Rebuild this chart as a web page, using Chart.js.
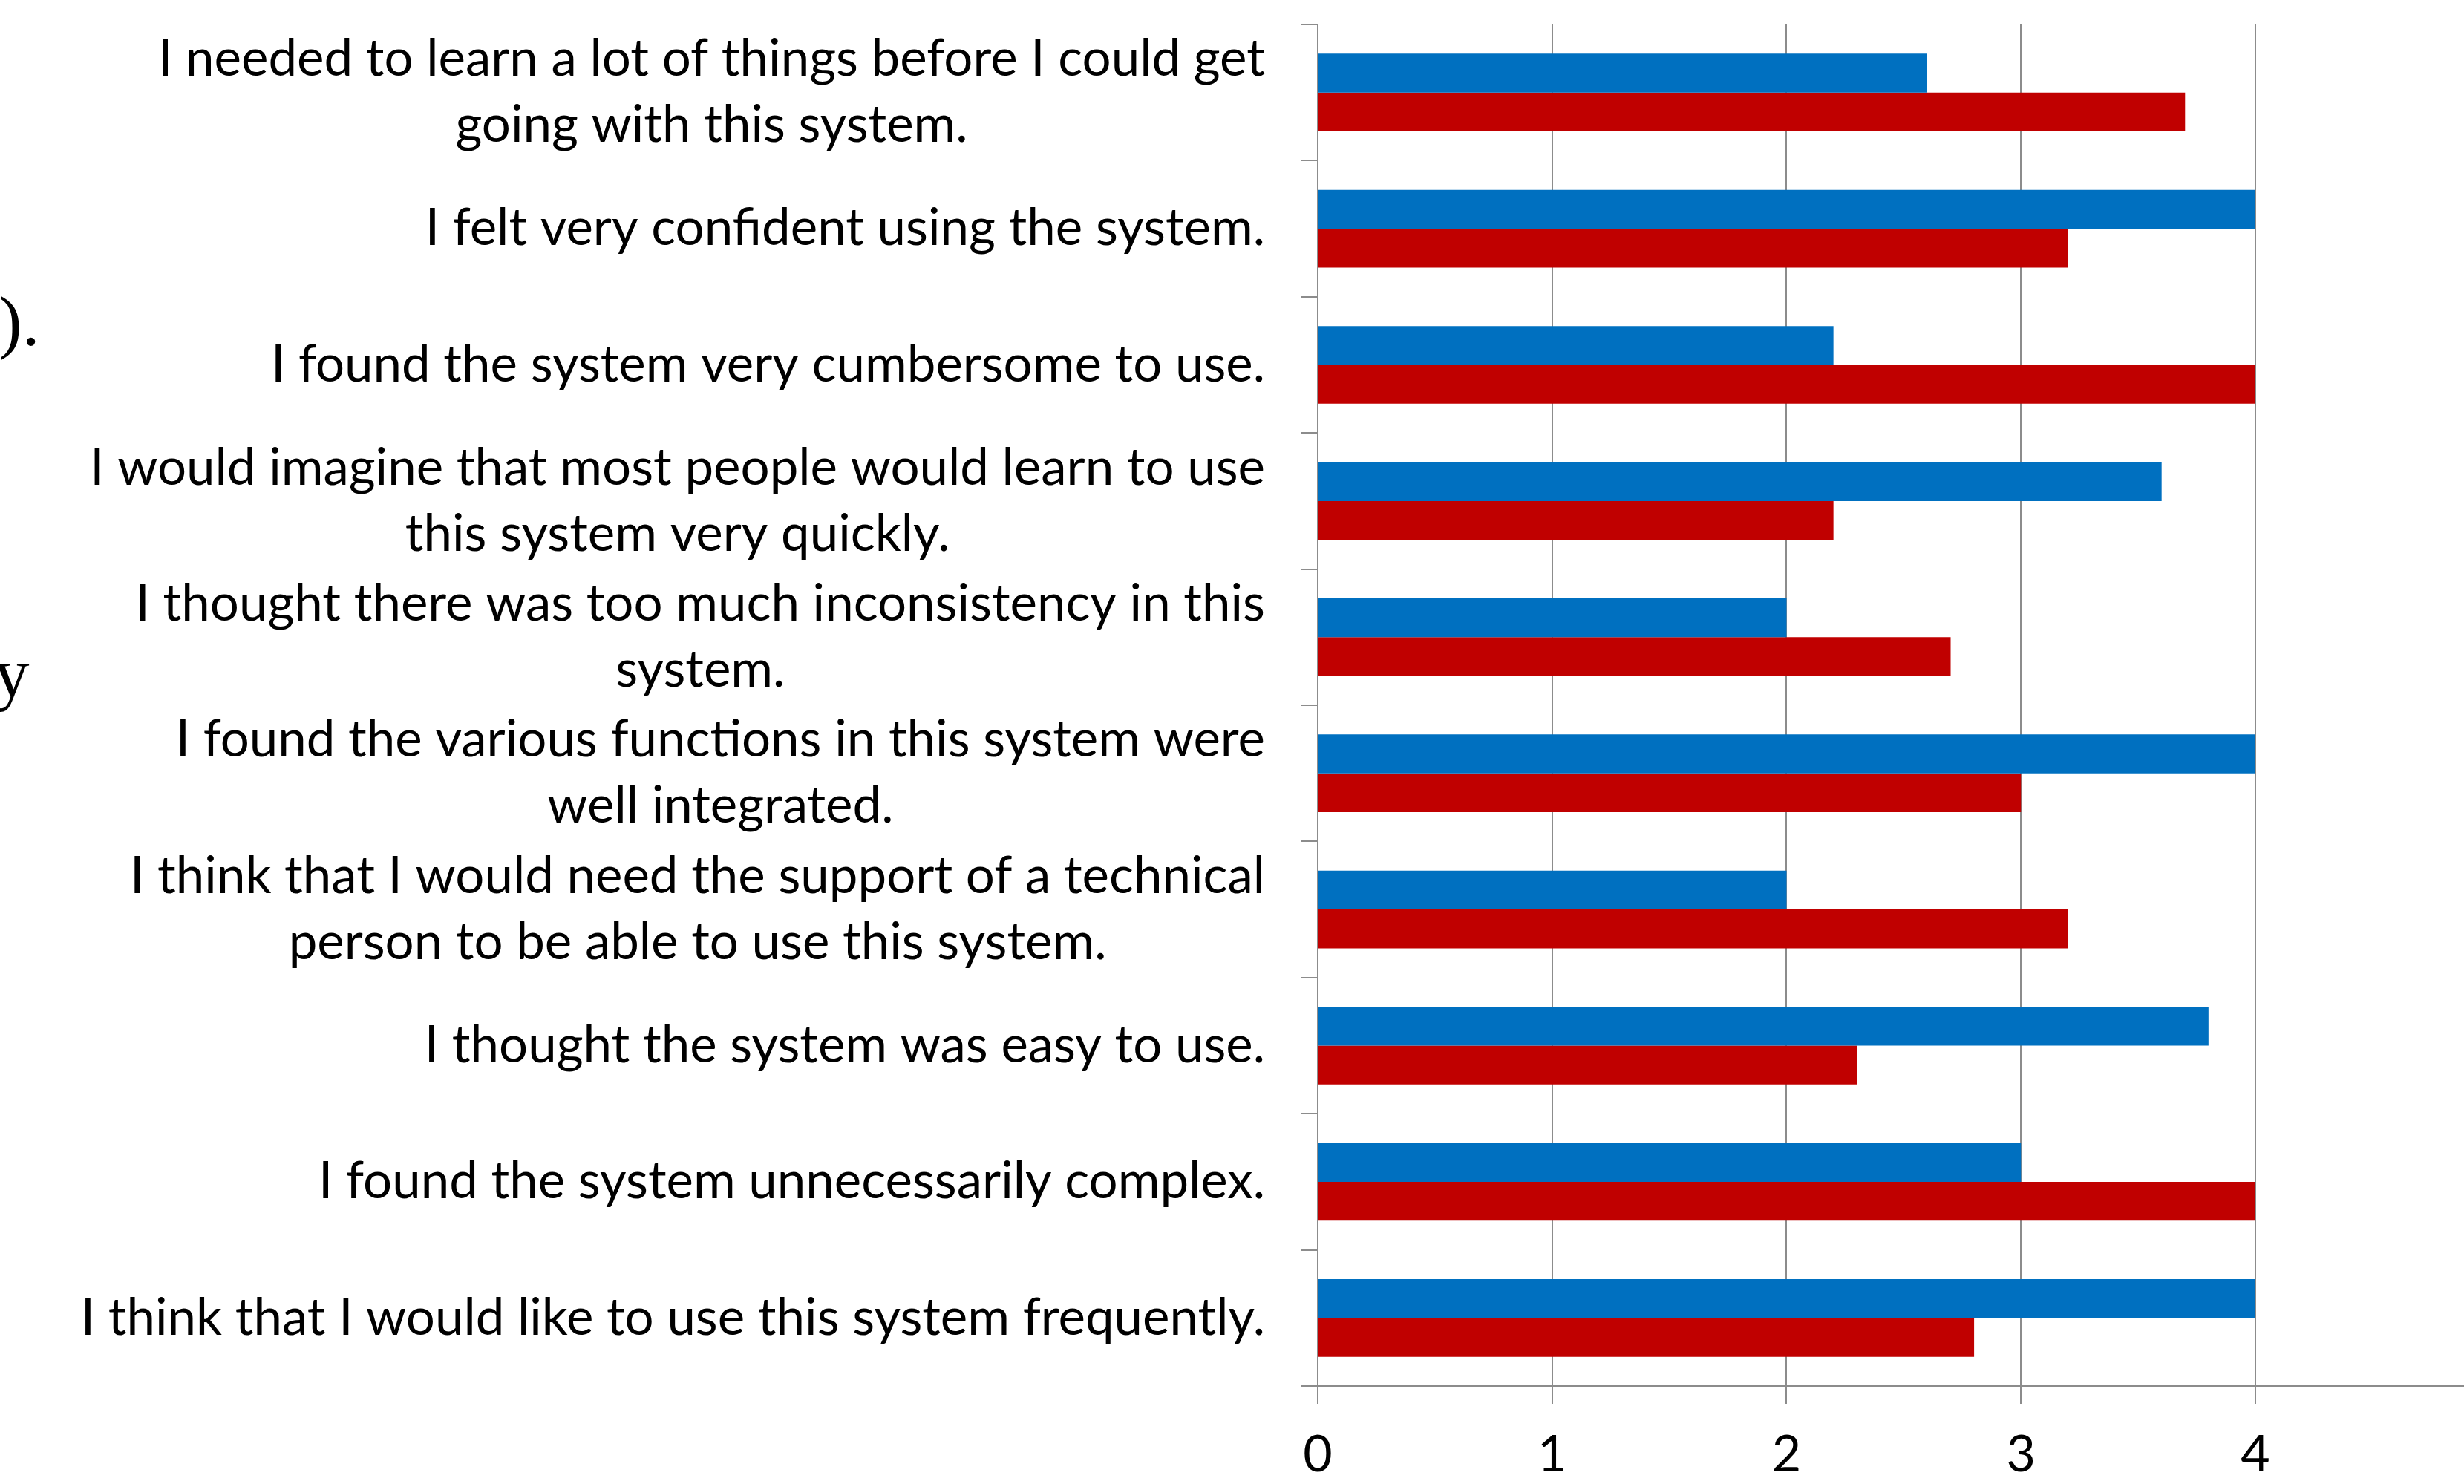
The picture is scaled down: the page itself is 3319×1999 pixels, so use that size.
<!DOCTYPE html>
<html>
<head>
<meta charset="utf-8">
<script src="https://cdn.jsdelivr.net/npm/chart.js@4"></script>
<style>
  html, body { margin: 0; padding: 0; background: #fff; overflow: hidden; }
  canvas { display: block; }
</style>
</head>
<body>
<canvas id="susChart" width="3319" height="1999"></canvas>
<script>
// questionnaire items, top to bottom, already wrapped into lines
var questions = [
    ['I needed to learn a lot of things before I could get', 'going with this system.'],
    ['I felt very confident using the system.'],
    ['I found the system very cumbersome to use.'],
    ['I would imagine that most people would learn to use', 'this system very quickly.'],
    ['I thought there was too much inconsistency in this', 'system.'],
    ['I found the various functions in this system were', 'well integrated.'],
    ['I think that I would need the support of a technical', 'person to be able to use this system.'],
    ['I thought the system was easy to use.'],
    ['I found the system unnecessarily complex.'],
    ['I think that I would like to use this system frequently.']
];

var series1 = [2.6, 4, 2.2, 3.6, 2, 4, 2, 3.8, 3, 4];
var series2 = [3.7, 3.2, 4, 2.2, 2.7, 3, 3.2, 2.3, 4, 2.8];

var xTicks = [0, 1, 2, 3, 4];

var gridGray = '#8c8c8c';
var labelFont = '69px Lato';

Chart.defaults.font.family = 'Lato';
Chart.defaults.color = '#000';

// draws the wrapped labels: lines centred on each other, block right-aligned to the axis
var questionLabels = {
    id: 'questionLabels',
    afterDraw: function (chart) {
        var ctx = chart.ctx;
        var yScale = chart.scales.y;
        var rightEdge = yScale.right - 71;
        var lineHeight = 89;
        ctx.save();
        ctx.font = labelFont;
        ctx.fillStyle = '#000';
        ctx.textAlign = 'center';
        ctx.textBaseline = 'middle';
        questions.forEach(function (lines, i) {
            var y = yScale.getPixelForTick(i);
            var widest = 0;
            lines.forEach(function (l) { widest = Math.max(widest, ctx.measureText(l).width); });
            var cx = rightEdge - widest / 2;
            lines.forEach(function (l, j) {
                ctx.fillText(l, cx, y + (j - (lines.length - 1) / 2) * lineHeight);
            });
        });
        // leftover text of the page the chart was cut from
        ctx.font = '95px "Liberation Serif"';
        ctx.textAlign = 'left';
        ctx.textBaseline = 'alphabetic';
        ctx.fillText(').', -2, 465);
        ctx.fillText('y', -8, 939);
        ctx.restore();
    }
};

var barData = {
    labels: questions.map(function (q) { return q.join(' '); }),
    datasets: [{
        label: 'Series 1',
        data: series1,
        backgroundColor: '#0070c0',
        borderWidth: 0
    }, {
        label: 'Series 2',
        data: series2,
        backgroundColor: '#c00000',
        borderWidth: 0
    }]
};

var barConfig = {
    type: 'bar',
    data: barData,
    options: {
        indexAxis: 'y',
        responsive: false,
        animation: false,
        categoryPercentage: 0.571,
        barPercentage: 1.0,
        layout: { padding: { top: 33, right: 0, left: 0, bottom: 0 } },
        plugins: {
            legend: { display: false },
            tooltip: { enabled: false }
        },
        scales: {
            x: {
                min: 0,
                max: 4.89,
                afterBuildTicks: function (scale) {
                    scale.ticks = xTicks.map(function (v) { return { value: v }; });
                },
                afterFit: function (scale) { scale.height = 132; },
                grid: {
                    color: gridGray,
                    lineWidth: 2,
                    drawTicks: true,
                    tickLength: 24
                },
                border: { color: gridGray, width: 3 },
                ticks: {
                    font: { size: 68 },
                    color: '#000',
                    padding: 28,
                    maxRotation: 0
                }
            },
            y: {
                offset: true,
                afterFit: function (scale) { scale.width = 1775; },
                grid: {
                    offset: true,
                    drawOnChartArea: false,
                    drawTicks: true,
                    tickLength: 23,
                    color: gridGray,
                    lineWidth: 2
                },
                border: { color: gridGray, width: 2 },
                ticks: { display: false }
            }
        }
    },
    plugins: [questionLabels]
};

var susChart = new Chart(
    document.getElementById('susChart'),
    barConfig
);
</script>
</body>
</html>
